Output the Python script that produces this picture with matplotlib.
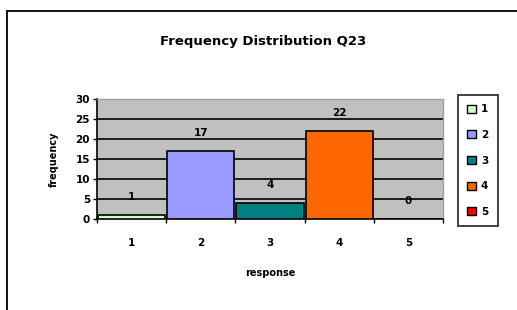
import matplotlib
matplotlib.use("Agg")
import matplotlib.pyplot as plt
from matplotlib.patches import Rectangle, Patch

categories = ["1", "2", "3", "4", "5"]
values = [1, 17, 4, 22, 0]
colors = ["#CCFFCC", "#9999FF", "#008080", "#FF6600", "#FF0000"]
yticks = [0, 5, 10, 15, 20, 25, 30]

W, H = 517, 310
fig = plt.figure(figsize=(W / 100, H / 100), dpi=100)
fig.patch.set_facecolor("white")

# outer frame
fig.patches.append(Rectangle((7 / W, -0.1), 1.2, 1 - 11 / H + 0.1, transform=fig.transFigure,
                             fill=False, edgecolor="black", linewidth=1.3))

ax = fig.add_axes([97 / W, 1 - 219 / H, (443 - 97) / W, (219 - 99) / H])
ax.set_facecolor("#C0C0C0")
x = list(range(len(categories)))
bars = ax.bar(x, values, width=0.97, color=colors, edgecolor="black", linewidth=1.2, zorder=3)
ax.set_xlim(-0.5, len(categories) - 0.5)
ax.set_ylim(0, 30)
ax.set_yticks(yticks)
ax.set_yticklabels([str(t) for t in yticks], fontsize=7.5, fontweight="bold")
for t in yticks[1:-1]:
    ax.axhline(t, color="black", linewidth=1.2, zorder=1)

ax.set_xticks([i - 0.5 for i in range(len(categories) + 1)])
ax.set_xticklabels([])
ax.set_xticks(x, minor=True)
ax.set_xticklabels(categories, minor=True, fontsize=7.5, fontweight="bold")
ax.tick_params(axis="x", which="minor", length=0, pad=14)
ax.tick_params(axis="x", which="major", length=3, width=1, direction="out")
ax.tick_params(axis="y", length=3, width=1, direction="out", pad=2)

for s in ["left", "bottom"]:
    ax.spines[s].set_color("black")
    ax.spines[s].set_linewidth(1.2)
for s in ["top", "right"]:
    ax.spines[s].set_color("#A0A0A0")
    ax.spines[s].set_linewidth(1.0)

for xi, v in zip(x, values):
    ax.annotate(str(v), (xi, v), xytext=(0, 13), textcoords="offset points",
                ha="center", va="center", fontsize=7.5, fontweight="bold", zorder=5)

ax.set_xlabel("response", fontsize=7, fontweight="bold", labelpad=14)
ax.set_ylabel("frequency", fontsize=7, fontweight="bold", labelpad=12)

fig.text(263 / W, 1 - 42 / H, "Frequency Distribution Q23", ha="center", va="center",
         fontsize=9.5, fontweight="bold")

handles = [Patch(facecolor=c, edgecolor="black", linewidth=1.0) for c in colors]
leg = fig.legend(handles, categories, loc="upper left", bbox_to_anchor=(458 / W, 1 - 95 / H),
                 frameon=True, fancybox=False, edgecolor="black", fontsize=7.5,
                 handlelength=0.8, handleheight=0.8, handletextpad=0.5,
                 labelspacing=1.5, borderpad=0.9, borderaxespad=0)
leg.get_frame().set_linewidth(1.3)
for t in leg.get_texts():
    t.set_fontweight("bold")

fig.savefig("out.png", dpi=100)
